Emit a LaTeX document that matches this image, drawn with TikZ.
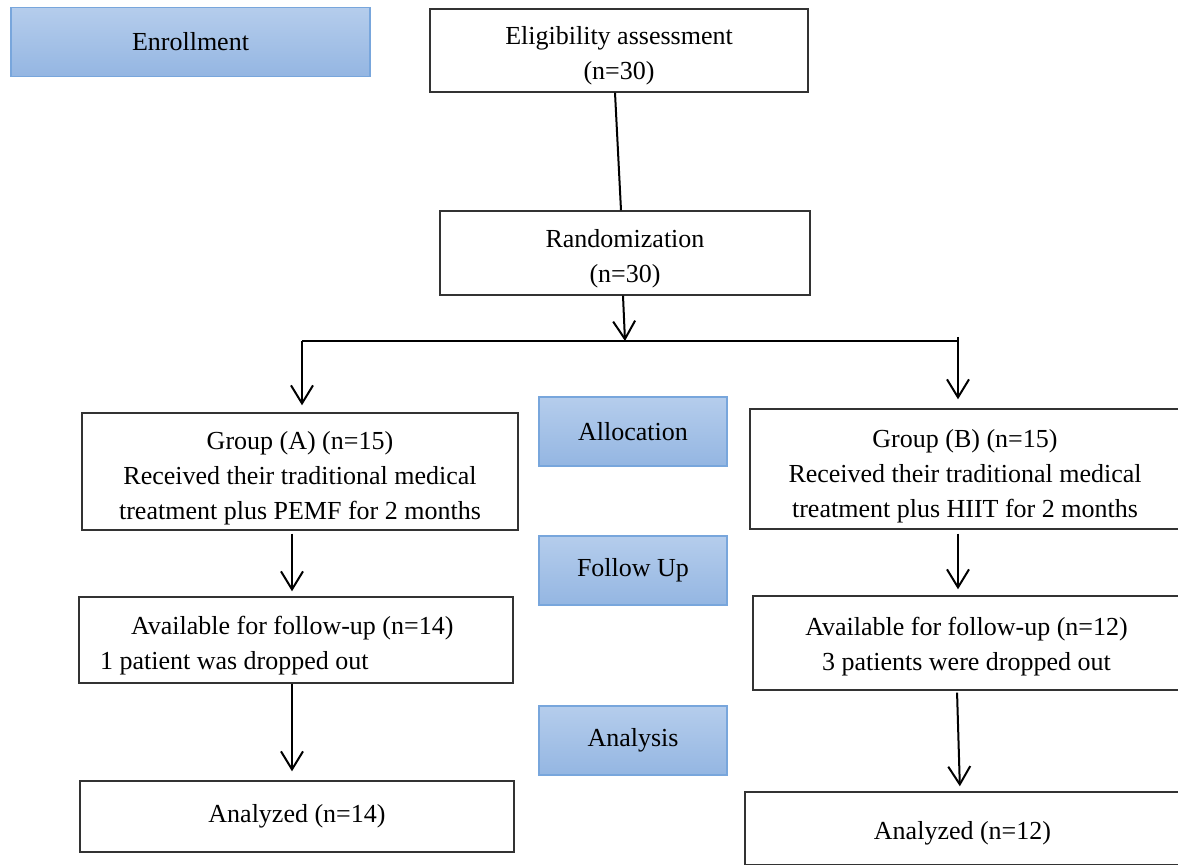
\documentclass[tikz,border=0pt]{standalone}
\usepackage{fontspec}
\setmainfont{Liberation Serif}
\usetikzlibrary{arrows.meta}

\definecolor{phasetop}{HTML}{B5CDEC}
\definecolor{phasebot}{HTML}{94B6E2}
\definecolor{phaseedge}{HTML}{78A6DC}

% extra room above the first line of a box
\newcommand{\padtop}[1]{\rule{0pt}{\dimexpr 9pt+#1\relax}}

\begin{document}
\begin{tikzpicture}[
  x=0.5pt,
  y=-0.5pt,
  font=\fontsize{13}{17.5}\selectfont
]

  \tikzstyle{flowbox}=[draw=black!80,line width=0.7pt,rectangle,align=center,inner sep=2pt]
  \tikzstyle{phasebox}=[draw=phaseedge,line width=0.6pt,rectangle,top color=phasetop,bottom color=phasebot,minimum width=94pt,minimum height=34.5pt,inner sep=2pt]
  \tikzstyle{pointer}=[draw,line width=1pt,-{Straight Barb[length=9pt,width=11pt,line width=1pt]}]
  \tikzstyle{joint}=[draw,line width=1pt]

  \useasboundingbox (0,0) rectangle (1178,865);

  % phase labels
  \node[phasebox,minimum width=179.5pt] (enroll) at (190.5,42) {Enrollment};
  \node[phasebox] (alloc)  at (633,431.5) {Allocation};
  \node[phasebox] (follow) at (633,570.5) {Follow Up};
  \node[phasebox] (analys) at (633,740.5) {Analysis};

  % boxes
  \node[flowbox,minimum width=189pt,minimum height=41.5pt] (elig) at (619,50.5)
    {\padtop{5pt}Eligibility assessment\\(n=30)};
  \node[flowbox,minimum width=185pt,minimum height=42pt] (rand) at (625,253)
    {\padtop{6pt}Randomization\\(n=30)};

  \node[flowbox,minimum width=218pt,minimum height=58.5pt] (grpA) at (300,471.5)
    {\padtop{7pt}Group (A) (n=15)\\Received their traditional medical\\treatment plus PEMF for 2 months};
  \node[flowbox,minimum width=215pt,minimum height=60pt] (grpB) at (965,469)
    {\padtop{7pt}Group (B) (n=15)\\Received their traditional medical\\treatment plus HIIT for 2 months};

  \node[flowbox,minimum height=43pt,text width=196pt,inner xsep=10.5pt,align=flush left] (availA) at (296,640)
    {\padtop{6pt}\hspace*{15.5pt}Available for follow-up (n=14)\\1 patient was dropped out};
  \node[flowbox,minimum width=213.5pt,minimum height=47pt] (availB) at (966.5,643)
    {\padtop{4pt}Available for follow-up (n=12)\\3 patients were dropped out};

  \node[flowbox,minimum width=217pt,minimum height=35.5pt] (anaA) at (297,816.5) {Analyzed (n=14)};
  \node[flowbox,minimum width=217.5pt,minimum height=36.5pt] (anaB) at (962.5,828.5) {\padtop{5pt}Analyzed (n=12)};

  % split point
  \coordinate (jn) at (625,341);
  \coordinate (jl) at (302,341);
  \coordinate (jr) at (958,341);

  % connectors
  \draw[joint] ([xshift=-2pt]elig.south) -- ([xshift=-2pt]rand.north);
  \draw[pointer] ([xshift=-1pt]rand.south) -- (jn);
  \draw[joint] (jl) -- (jr);
  \draw[pointer,shorten >=3.5pt] (jl) -- (jl |- grpA.north);
  \draw[pointer,shorten >=4.5pt] ([yshift=2pt]jr) -- (jr |- grpB.north);

  \draw[pointer,shorten <=1.5pt,shorten >=2.5pt] ([xshift=-4pt]grpA.south) -- ([xshift=-2pt]availA.north);
  \draw[pointer,shorten >=4.5pt] ([xshift=-2pt]availA.south) -- ([xshift=-2.5pt]anaA.north);

  \draw[pointer,shorten <=2pt,shorten >=3pt] ([xshift=-3.5pt]grpB.south) -- ([xshift=-4.25pt]availB.north);
  \draw[pointer,shorten <=1pt,shorten >=2.5pt] ([xshift=-4.75pt]availB.south) -- ([xshift=-1.25pt]anaB.north);

\end{tikzpicture}
\end{document}
